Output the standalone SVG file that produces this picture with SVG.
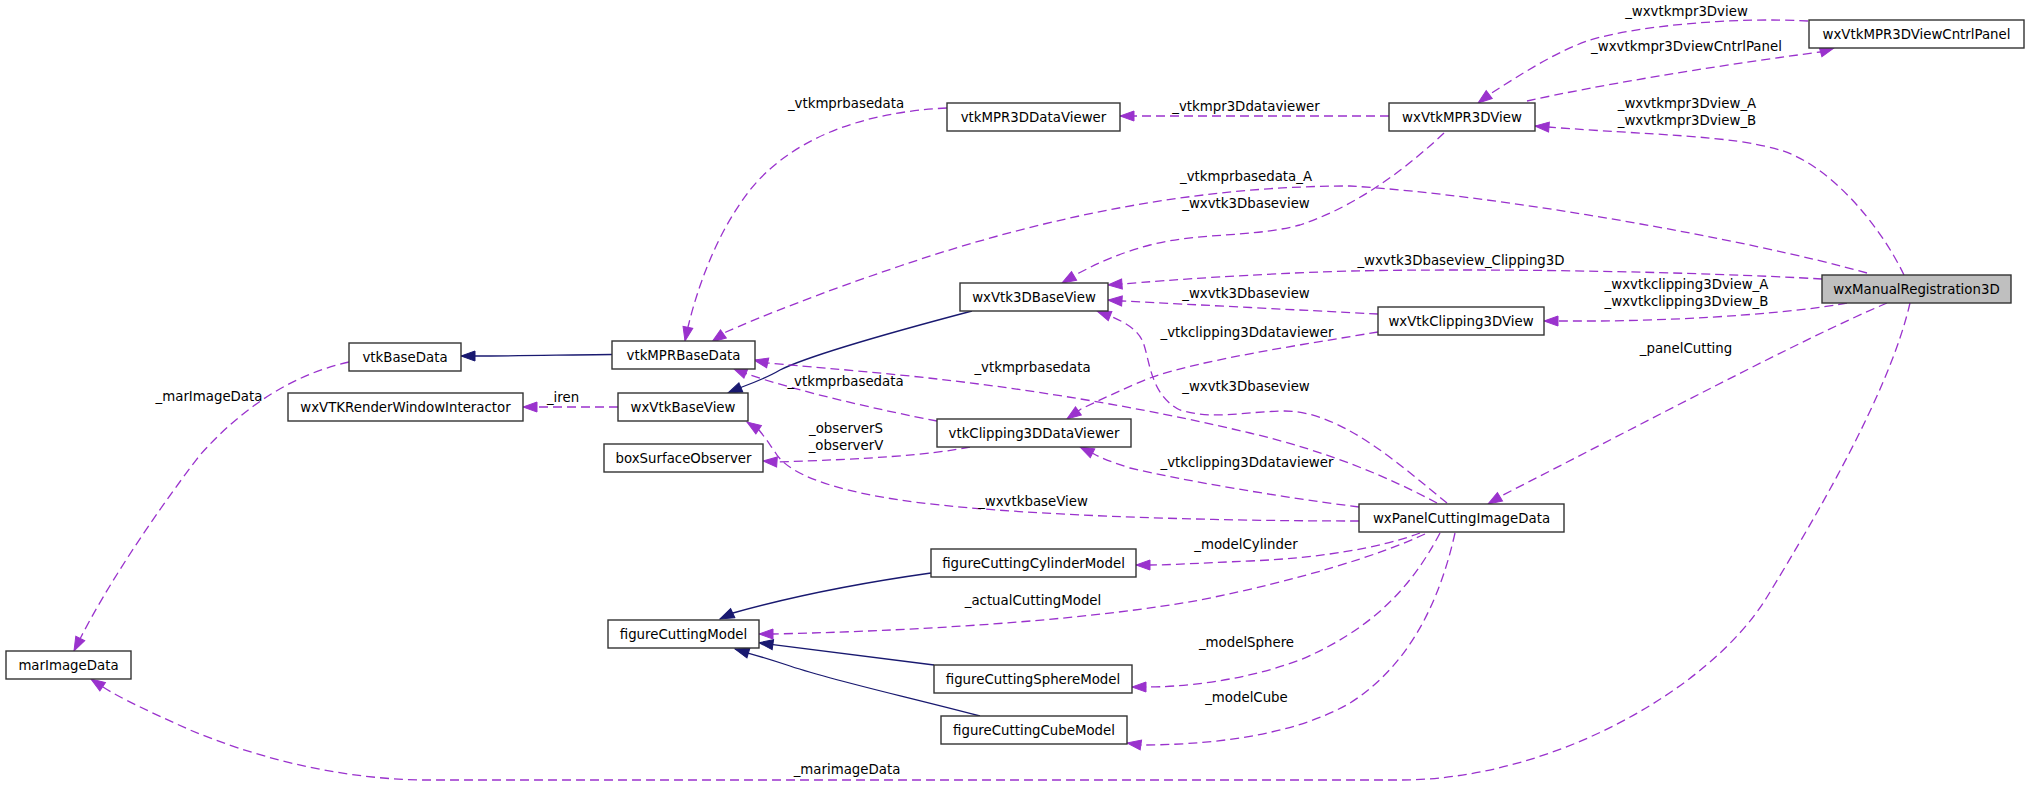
<svg xmlns="http://www.w3.org/2000/svg" width="2029" height="785" viewBox="0 0 2029 785">
<style>
text{font-family:"DejaVu Sans","Liberation Sans",sans-serif;font-size:13.33px;fill:#000}
.node rect{fill:#fff;stroke:#333;stroke-width:1.4}
.node text{text-anchor:middle}
#wxManualRegistration3D rect{fill:#bfbfbf}
.dep{fill:none;stroke:#9a32cd;stroke-width:1.3;stroke-dasharray:9,5;marker-end:url(#ap)}
.inh{fill:none;stroke:#191970;stroke-width:1.3;marker-end:url(#an)}
.el{text-anchor:middle}
</style>
<defs>
<marker id="ap" markerUnits="userSpaceOnUse" markerWidth="14" markerHeight="10" viewBox="0 0 14 10" refX="14" refY="5" orient="auto" overflow="visible"><path d="M0,0 L14,5 L0,10 z" fill="#9a32cd" stroke="#9a32cd" stroke-width="1"/></marker>
<marker id="an" markerUnits="userSpaceOnUse" markerWidth="14" markerHeight="10" viewBox="0 0 14 10" refX="14" refY="5" orient="auto" overflow="visible"><path d="M0,0 L14,5 L0,10 z" fill="#191970" stroke="#191970" stroke-width="1"/></marker>
</defs>
<rect width="2029" height="785" fill="#fff"/>
<g id="connectors">
<path class="inh" d="M612,354.5 C560,355 520,356 475,356 L461,356"/>
<path class="inh" d="M972,311 C900,330 810,355 780,370 C770,376 758,381 742,387 L728,393"/>
<path class="inh" d="M931,573 C860,583 790,597 733,613 L720,619"/>
<path class="inh" d="M934,665 L773,644.7 L759,642.7"/>
<path class="inh" d="M980,716 C900,695 830,680 787,665 C775,661 762,657 748,653 L735,649"/>
<path class="dep" d="M1808,21 C1740,17 1640,25 1590,40 C1555,52 1520,75 1490,94 L1478,103"/>
<path class="dep" d="M1527,101 C1600,85 1700,68 1820,52 L1834,48"/>
<path class="dep" d="M1904,275 C1880,225 1830,165 1780,150 C1730,135 1650,135 1548,127 L1535,126"/>
<path class="dep" d="M1389,116 L1133,116 L1120,116"/>
<path class="dep" d="M947,108 C860,112 790,140 750,190 C715,235 697,290 688,327 L685,341"/>
<path class="dep" d="M1867,273 C1750,240 1500,195 1350,186 C1200,186 1050,215 900,266 C820,293 760,317 726,332 L712,342"/>
<path class="dep" d="M1444,133 C1410,165 1360,205 1300,225 C1250,238 1200,232 1150,245 C1120,253 1100,262 1079,273 L1062,283"/>
<path class="dep" d="M1822,279 C1700,272 1500,268 1350,271 C1250,274 1170,280 1122,284 L1108,285"/>
<path class="dep" d="M1378,314 C1300,310 1200,305 1122,301 L1108,300"/>
<path class="dep" d="M1847,303 C1800,312 1700,320 1600,321 L1558,321 L1544,321"/>
<path class="dep" d="M1378,332 C1300,345 1200,360 1150,378 C1125,388 1100,400 1081,409 L1067,419"/>
<path class="dep" d="M1447,503 C1400,465 1340,410 1283,411 C1240,412 1215,420 1180,410 C1150,395 1150,360 1143,342 C1138,330 1125,322 1110,316 L1097,311"/>
<path class="dep" d="M1437,503 C1390,478 1330,452 1250,433 C1170,414 1050,390 900,375 C850,370 800,366 768,363 L754,360"/>
<path class="dep" d="M937,421 C880,410 800,392 747,374 L733,368"/>
<path class="dep" d="M618,407 L537,407 L523,407"/>
<path class="dep" d="M1359,521 C1200,521 1000,515 900,500 C820,488 785,470 775,452 C770,445 767,440 759,430 L747,422"/>
<path class="dep" d="M970,447 C930,455 870,459 777,462 L763,461"/>
<path class="dep" d="M1359,507 C1280,497 1180,480 1130,468 C1115,463 1105,460 1094,454 L1080,447"/>
<path class="dep" d="M1887,303 C1800,340 1650,420 1503,495 L1488,504"/>
<path class="dep" d="M1910,303 C1890,390 1820,510 1767,597 C1710,690 1550,780 1400,780 L420,780 C330,778 250,755 190,730 C150,712 120,698 103,687 L91,679"/>
<path class="dep" d="M349,362 C290,375 240,410 200,455 C150,520 105,590 81,637 L74,651"/>
<path class="dep" d="M1420,533 C1380,548 1320,558 1250,561 C1200,563 1170,565 1150,565 L1136,565"/>
<path class="dep" d="M1425,534 C1380,555 1300,580 1200,600 C1100,618 950,630 773,634 L759,634"/>
<path class="dep" d="M1440,533 C1410,590 1370,630 1300,660 C1240,682 1180,687 1146,687 L1132,687"/>
<path class="dep" d="M1455,533 C1440,600 1410,665 1350,703 C1290,738 1200,745 1141,745 L1127,743"/>
<g id="edge-labels">
<text class="el" x="1686.5" y="16">_wxvtkmpr3Dview</text>
<text class="el" x="1686.5" y="51">_wxvtkmpr3DviewCntrlPanel</text>
<text class="el" x="1687" y="108">_wxvtkmpr3Dview_A</text>
<text class="el" x="1687" y="125">_wxvtkmpr3Dview_B</text>
<text class="el" x="1246" y="111">_vtkmpr3Ddataviewer</text>
<text class="el" x="846" y="108">_vtkmprbasedata</text>
<text class="el" x="1246" y="181">_vtkmprbasedata_A</text>
<text class="el" x="1246" y="208">_wxvtk3Dbaseview</text>
<text class="el" x="1461" y="265">_wxvtk3Dbaseview_Clipping3D</text>
<text class="el" x="1246" y="298">_wxvtk3Dbaseview</text>
<text class="el" x="1686.5" y="288.5">_wxvtkclipping3Dview_A</text>
<text class="el" x="1686.5" y="305.5">_wxvtkclipping3Dview_B</text>
<text class="el" x="1686" y="353">_panelCutting</text>
<text class="el" x="1247" y="337">_vtkclipping3Ddataviewer</text>
<text class="el" x="1032.5" y="372">_vtkmprbasedata</text>
<text class="el" x="845.5" y="386">_vtkmprbasedata</text>
<text class="el" x="1246" y="390.5">_wxvtk3Dbaseview</text>
<text class="el" x="209" y="401">_marImageData</text>
<text class="el" x="563" y="401.5">_iren</text>
<text class="el" x="846" y="433">_observerS</text>
<text class="el" x="846" y="450">_observerV</text>
<text class="el" x="1247" y="467">_vtkclipping3Ddataviewer</text>
<text class="el" x="1033" y="506">_wxvtkbaseView</text>
<text class="el" x="1246" y="549">_modelCylinder</text>
<text class="el" x="1033" y="605">_actualCuttingModel</text>
<text class="el" x="1246.5" y="647">_modelSphere</text>
<text class="el" x="1246.5" y="702">_modelCube</text>
<text class="el" x="847" y="774">_marimageData</text>
</g>
</g>
<g id="wxManualRegistration3D" class="node"><rect x="1822" y="275" width="189" height="28"/><text x="1916.5" y="294">wxManualRegistration3D</text></g>
<g id="wxVtkMPR3DViewCntrlPanel" class="node"><rect x="1809" y="20" width="215" height="28"/><text x="1916.5" y="39">wxVtkMPR3DViewCntrlPanel</text></g>
<g id="wxVtkMPR3DView" class="node"><rect x="1389" y="103" width="146" height="28"/><text x="1462" y="122">wxVtkMPR3DView</text></g>
<g id="vtkMPR3DDataViewer" class="node"><rect x="947" y="103" width="173" height="28"/><text x="1033.5" y="122">vtkMPR3DDataViewer</text></g>
<g id="wxVtk3DBaseView" class="node"><rect x="960" y="283" width="148" height="28"/><text x="1034" y="302">wxVtk3DBaseView</text></g>
<g id="wxVtkClipping3DView" class="node"><rect x="1378" y="307" width="166" height="28"/><text x="1461" y="326">wxVtkClipping3DView</text></g>
<g id="vtkClipping3DDataViewer" class="node"><rect x="937" y="419" width="194" height="28"/><text x="1034" y="438">vtkClipping3DDataViewer</text></g>
<g id="vtkMPRBaseData" class="node"><rect x="612" y="341" width="143" height="28"/><text x="683.5" y="360">vtkMPRBaseData</text></g>
<g id="vtkBaseData" class="node"><rect x="349" y="343" width="112" height="28"/><text x="405" y="362">vtkBaseData</text></g>
<g id="wxVtkBaseView" class="node"><rect x="618" y="393" width="130" height="28"/><text x="683" y="412">wxVtkBaseView</text></g>
<g id="wxVTKRenderWindowInteractor" class="node"><rect x="288" y="393" width="235" height="28"/><text x="405.5" y="412">wxVTKRenderWindowInteractor</text></g>
<g id="boxSurfaceObserver" class="node"><rect x="604" y="444" width="159" height="28"/><text x="683.5" y="463">boxSurfaceObserver</text></g>
<g id="wxPanelCuttingImageData" class="node"><rect x="1359" y="504" width="205" height="28"/><text x="1461.5" y="523">wxPanelCuttingImageData</text></g>
<g id="figureCuttingCylinderModel" class="node"><rect x="931" y="549" width="205" height="28"/><text x="1033.5" y="568">figureCuttingCylinderModel</text></g>
<g id="figureCuttingModel" class="node"><rect x="608" y="620" width="151" height="28"/><text x="683.5" y="639">figureCuttingModel</text></g>
<g id="figureCuttingSphereModel" class="node"><rect x="934" y="665" width="198" height="28"/><text x="1033" y="684">figureCuttingSphereModel</text></g>
<g id="figureCuttingCubeModel" class="node"><rect x="941" y="716" width="186" height="28"/><text x="1034" y="735">figureCuttingCubeModel</text></g>
<g id="marImageData" class="node"><rect x="6" y="651" width="125" height="28"/><text x="68.5" y="670">marImageData</text></g>
</svg>
